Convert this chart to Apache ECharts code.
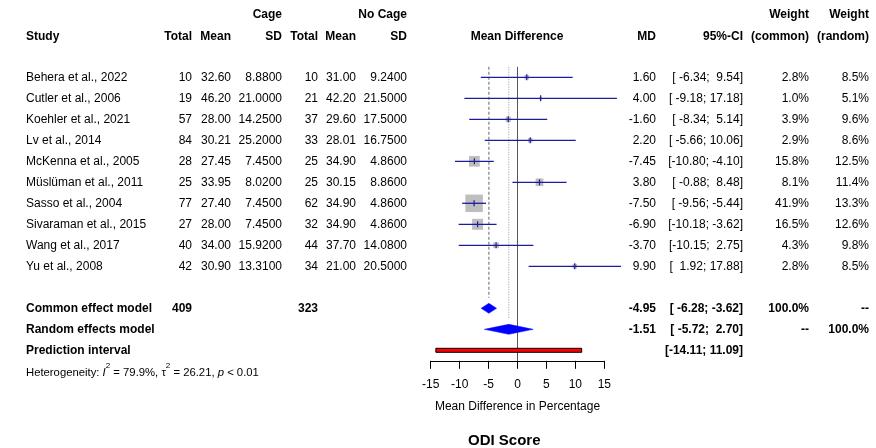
<!DOCTYPE html>
<html><head><meta charset="utf-8">
<script src="https://cdn.jsdelivr.net/npm/echarts@6/dist/echarts.min.js"></script>
<style>html,body{margin:0;padding:0;background:#fff}#c{width:876px;height:448px}</style>
</head><body><div id="c"></div>
<script>
// ---------------- data ----------------
const studies = ['Behera et al., 2022','Cutler et al., 2006','Koehler et al., 2021','Lv et al., 2014','McKenna et al., 2005','Müslüman et al., 2011','Sasso et al., 2004','Sivaraman et al., 2015','Wang et al., 2017','Yu et al., 2008'];
const cageTotal = [10,19,57,84,28,25,77,27,40,42];
const cageMean = [32.60,46.20,28.00,30.21,27.45,33.95,27.40,28.00,34.00,30.90];
const cageSD = [8.88,21.0,14.25,25.2,7.45,8.02,7.45,7.45,15.92,13.31];
const noCageTotal = [10,21,37,33,25,25,62,32,44,34];
const noCageMean = [31.00,42.20,29.60,28.01,34.90,30.15,34.90,34.90,37.70,21.00];
const noCageSD = [9.24,21.5,17.5,16.75,4.86,8.86,4.86,4.86,14.08,20.5];
const md = [1.60,4.00,-1.60,2.20,-7.45,3.80,-7.50,-6.90,-3.70,9.90];
const ciLower = [-6.34,-9.18,-8.34,-5.66,-10.80,-0.88,-9.56,-10.18,-10.15,1.92];
const ciUpper = [9.54,17.18,5.14,10.06,-4.10,8.48,-5.44,-3.62,2.75,17.88];
const weightCommon = [2.8,1.0,3.9,2.9,15.8,8.1,41.9,16.5,4.3,2.8];
const weightRandom = [8.5,5.1,9.6,8.6,12.5,11.4,13.3,12.6,9.8,8.5];
const totalCage = 409, totalNoCage = 323;
const commonMD = -4.95, commonLower = -6.28, commonUpper = -3.62;
const randomMD = -1.51, randomLower = -5.72, randomUpper = 2.70;
const predLower = -14.11, predUpper = 11.09;
const xTicks = [-15,-10,-5,0,5,10,15];
const hetI2 = '79.9%', hetTau2 = '26.21', hetP = '0.01';

// ---------------- layout ----------------
const FONT = '"Liberation Sans", Arial, sans-serif';
const ROW = {common: 11, random: 12, pred: 13, het: 13.95, head1: -3, head2: -1.95};
const COL = {study: 26, cTot: 192, cMean: 231, cSD: 282, nTot: 318, nMean: 356, nSD: 407,
             mdHead: 517, md: 656, ci: 743, wC: 809, wR: 869};

function pad(s, w){ while (s.length < w) s = ' ' + s; return s; }
function ciText(lo, hi){ return '[' + pad(lo.toFixed(2), 6) + '; ' + pad(hi.toFixed(2), 5) + ']'; }

const cells = [];
function cell(x, row, text, align, bold, extra){ cells.push(Object.assign({x, row, text, align, bold}, extra || {})); }
// headers
cell(COL.cSD, ROW.head1, 'Cage', 'right', true);
cell(COL.nSD, ROW.head1, 'No Cage', 'right', true);
cell(COL.wC, ROW.head1, 'Weight', 'right', true);
cell(COL.wR, ROW.head1, 'Weight', 'right', true);
cell(COL.study, ROW.head2, 'Study', 'left', true);
cell(COL.cTot, ROW.head2, 'Total', 'right', true);
cell(COL.cMean, ROW.head2, 'Mean', 'right', true);
cell(COL.cSD, ROW.head2, 'SD', 'right', true);
cell(COL.nTot, ROW.head2, 'Total', 'right', true);
cell(COL.nMean, ROW.head2, 'Mean', 'right', true);
cell(COL.nSD, ROW.head2, 'SD', 'right', true);
cell(COL.mdHead, ROW.head2, 'Mean Difference', 'center', true);
cell(COL.md, ROW.head2, 'MD', 'right', true);
cell(COL.ci, ROW.head2, '95%-CI', 'right', true);
cell(COL.wC, ROW.head2, '(common)', 'right', true);
cell(COL.wR, ROW.head2, '(random)', 'right', true);
// study rows
studies.forEach((s, i) => {
  cell(COL.study, i, s, 'left', false);
  cell(COL.cTot, i, String(cageTotal[i]), 'right', false);
  cell(COL.cMean, i, cageMean[i].toFixed(2), 'right', false);
  cell(COL.cSD, i, cageSD[i].toFixed(4), 'right', false);
  cell(COL.nTot, i, String(noCageTotal[i]), 'right', false);
  cell(COL.nMean, i, noCageMean[i].toFixed(2), 'right', false);
  cell(COL.nSD, i, noCageSD[i].toFixed(4), 'right', false);
  cell(COL.md, i, md[i].toFixed(2), 'right', false);
  cell(COL.ci, i, ciText(ciLower[i], ciUpper[i]), 'right', false);
  cell(COL.wC, i, weightCommon[i].toFixed(1) + '%', 'right', false);
  cell(COL.wR, i, weightRandom[i].toFixed(1) + '%', 'right', false);
});
// summary rows
cell(COL.study, ROW.common, 'Common effect model', 'left', true);
cell(COL.cTot, ROW.common, String(totalCage), 'right', true);
cell(COL.nTot, ROW.common, String(totalNoCage), 'right', true);
cell(COL.md, ROW.common, commonMD.toFixed(2), 'right', true);
cell(COL.ci, ROW.common, ciText(commonLower, commonUpper), 'right', true);
cell(COL.wC, ROW.common, '100.0%', 'right', true);
cell(COL.wR, ROW.common, '--', 'right', true);
cell(COL.study, ROW.random, 'Random effects model', 'left', true);
cell(COL.md, ROW.random, randomMD.toFixed(2), 'right', true);
cell(COL.ci, ROW.random, ciText(randomLower, randomUpper), 'right', true);
cell(COL.wC, ROW.random, '--', 'right', true);
cell(COL.wR, ROW.random, '100.0%', 'right', true);
cell(COL.study, ROW.pred, 'Prediction interval', 'left', true);
cell(COL.ci, ROW.pred, ciText(predLower, predUpper), 'right', true);
cell(COL.study, ROW.het, '{n|Heterogeneity: }{i|I}{sup|2}{n| = ' + hetI2 + ', τ}{sup|2}{n| = ' + hetTau2 + ', }{i|p}{n| < ' + hetP + '}', 'left', false, {rich: true});

const maxW = Math.max.apply(null, weightCommon);
const studyData = studies.map((s, i) => [md[i], ciLower[i], ciUpper[i], i, weightCommon[i]]);
const refLines = [[0, -0.5, 13.5, 'solid'], [commonMD, -0.5, 10.5, 'dashed'], [randomMD, -0.5, 11.5, 'dotted']];
const diamonds = [[commonMD, commonLower, commonUpper, ROW.common], [randomMD, randomLower, randomUpper, ROW.random]];

const chart = echarts.init(document.getElementById('c'), null, {renderer: 'canvas'});
chart.setOption({
  animation: false,
  backgroundColor: '#fff',
  textStyle: {fontFamily: FONT},
  title: {text: 'ODI Score', left: 463, top: 428, textStyle: {fontFamily: FONT, fontSize: 15, fontWeight: 'bold', color: '#000'}},
  grid: {left: 430.7, width: 173.6, top: 77.3 - 3.5 * 21, height: 17 * 21},
  xAxis: {
    type: 'value', min: xTicks[0], max: xTicks[xTicks.length - 1], interval: 5,
    axisLine: {show: true, onZero: false, lineStyle: {color: '#000', width: 1}},
    axisTick: {show: true, length: 8, lineStyle: {color: '#000'}},
    axisLabel: {color: '#000', fontSize: 12, fontFamily: FONT, margin: 18},
    splitLine: {show: false},
    name: 'Mean Difference in Percentage', nameLocation: 'middle', nameGap: 40,
    nameTextStyle: {color: '#000', fontSize: 12, fontFamily: FONT}
  },
  yAxis: {type: 'value', inverse: true, min: -3.5, max: 13.5, show: false},
  series: [
    {
      type: 'custom', clip: false, z: 1,
      data: refLines.map(r => [r[0], r[1], r[2]]),
      renderItem(params, api) {
        const r = refLines[params.dataIndex];
        const a = api.coord([r[0], r[1]]), b = api.coord([r[0], r[2]]);
        const st = r[3] === 'solid' ? {stroke: '#555', lineWidth: 1}
                 : r[3] === 'dashed' ? {stroke: '#999', lineWidth: 1.5, lineDash: [3, 2]}
                 : {stroke: '#aaa', lineWidth: 1.2, lineDash: [1, 1.5]};
        return {type: 'line', shape: {x1: a[0], y1: a[1], x2: b[0], y2: b[1]}, style: st};
      }
    },
    {
      type: 'custom', clip: false, z: 2,
      data: studyData,
      renderItem(params, api) {
        const p = api.coord([api.value(0), api.value(3)]);
        const l = api.coord([api.value(1), api.value(3)]);
        const h = api.coord([api.value(2), api.value(3)]);
        const s = 17.5 * Math.sqrt(api.value(4) / maxW);
        return {type: 'group', children: [
          {type: 'rect', shape: {x: p[0] - s / 2, y: p[1] - s / 2, width: s, height: s}, style: {fill: '#bebebe'}},
          {type: 'line', shape: {x1: l[0], y1: l[1], x2: h[0], y2: h[1]}, style: {stroke: '#1c1c9c', lineWidth: 1.3}},
          {type: 'line', shape: {x1: p[0], y1: p[1] - 3, x2: p[0], y2: p[1] + 3}, style: {stroke: '#1c1c9c', lineWidth: 1.2}}
        ]};
      }
    },
    {
      type: 'custom', clip: false, z: 3,
      data: diamonds,
      renderItem(params, api) {
        const c = api.coord([api.value(0), api.value(3)]);
        const l = api.coord([api.value(1), api.value(3)]);
        const h = api.coord([api.value(2), api.value(3)]);
        return {type: 'polygon', shape: {points: [[l[0], l[1]], [c[0], c[1] - 5], [h[0], h[1]], [c[0], c[1] + 5]]},
                style: {fill: '#0000ff', stroke: '#0000ff', lineWidth: 0.5}};
      }
    },
    {
      type: 'custom', clip: false, z: 3,
      data: [[predLower, predUpper, ROW.pred]],
      renderItem(params, api) {
        const l = api.coord([api.value(0), api.value(2)]);
        const h = api.coord([api.value(1), api.value(2)]);
        return {type: 'rect', shape: {x: l[0], y: l[1] - 2, width: h[0] - l[0], height: 4},
                style: {fill: '#ff0000', stroke: '#000', lineWidth: 1}};
      }
    },
    {
      type: 'custom', clip: false, z: 4, silent: true,
      data: cells.map(c => [0, c.row]),
      renderItem(params, api) {
        const c = cells[params.dataIndex];
        const y = api.coord([0, api.value(1)])[1];
        const style = {text: c.text, align: c.align, verticalAlign: 'middle', fill: '#000',
          fontFamily: FONT, fontSize: 12, fontWeight: c.bold ? 'bold' : 'normal'};
        if (c.rich) {
          style.rich = {
            n: {fontSize: 11.3, fontFamily: FONT, fill: '#000', verticalAlign: 'bottom', lineHeight: 16},
            i: {fontStyle: 'italic', fontSize: 11.3, fontFamily: FONT, fill: '#000', verticalAlign: 'bottom', lineHeight: 16},
            sup: {fontSize: 8, fontFamily: FONT, fill: '#000', verticalAlign: 'top', lineHeight: 10}
          };
        }
        return {type: 'text', x: c.x, y: y, style: style};
      }
    }
  ]
});
</script></body></html>
